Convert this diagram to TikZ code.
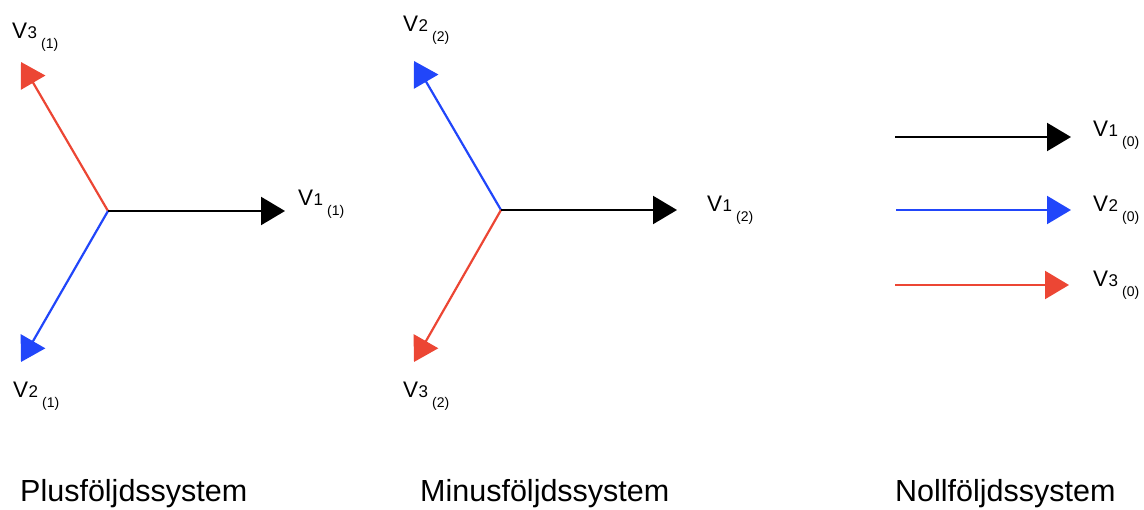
\documentclass[tikz,border=0pt]{standalone}
\usepackage{fontspec}
\setmainfont{Liberation Sans}
\usetikzlibrary{arrows.meta}
\definecolor{vred}{RGB}{236,70,52}
\definecolor{vblue}{RGB}{33,70,250}
\newcommand\vlab[2]{V\kern0.5pt{\fontsize{17}{17}\selectfont #1}\kern4pt\raisebox{-10pt}{\fontsize{14}{14}\selectfont (#2)}}
\tikzset{
  vec/.style={line width=2.2pt,-{Triangle[length=24pt,width=28pt]}},
  vlabel/.style={anchor=base west,inner sep=0pt,font=\fontsize{22.5}{22.5}\selectfont},
  title/.style={anchor=base west,inner sep=0pt,font=\fontsize{30.5}{31}\selectfont}
}
\begin{document}
\begin{tikzpicture}[x=1pt,y=-1pt]
\useasboundingbox (0,0) rectangle (1144,510);
% Plusfoljd
\coordinate (O1) at (108,211);
\coordinate (A1) at (285,211);
\coordinate (B1) at (21,362);
\coordinate (C1) at (21,62);
\draw[vec,vred] (O1) -- (C1);
\draw[vec,vblue] (O1) -- (B1);
\draw[vec,black] (O1) -- (A1);
\node[vlabel] (LA1) at (298,206) {\vlab{1}{1}};
\node[vlabel] (LB1) at (13,398) {\vlab{2}{1}};
\node[vlabel] (LC1) at (12,39) {\vlab{3}{1}};
% Minusfoljd
\coordinate (O2) at (501,210);
\coordinate (A2) at (677,210);
\coordinate (B2) at (414,61);
\coordinate (C2) at (414,362);
\draw[vec,vblue] (O2) -- (B2);
\draw[vec,vred] (O2) -- (C2);
\draw[vec,black] (O2) -- (A2);
\node[vlabel] (LA2) at (707,212) {\vlab{1}{2}};
\node[vlabel] (LB2) at (403,32) {\vlab{2}{2}};
\node[vlabel] (LC2) at (403,398) {\vlab{3}{2}};
% Nollfoljd
\coordinate (SA) at (895,137);
\coordinate (EA) at (1071,137);
\coordinate (SB) at (896,210);
\coordinate (EB) at (1071,210);
\coordinate (SC) at (895,285);
\coordinate (EC) at (1069,285);
\draw[vec,black] (SA) -- (EA);
\draw[vec,vblue] (SB) -- (EB);
\draw[vec,vred] (SC) -- (EC);
\node[vlabel] (LA0) at (1093,137) {\vlab{1}{0}};
\node[vlabel] (LB0) at (1093,212) {\vlab{2}{0}};
\node[vlabel] (LC0) at (1093,287) {\vlab{3}{0}};
% titles
\node[title] (T1) at (20,502) {Plusföljdssystem};
\node[title] (T2) at (420,502) {Minusföljdssystem};
\node[title] (T3) at (895,502) {Nollföljdssystem};
\end{tikzpicture}
\end{document}
